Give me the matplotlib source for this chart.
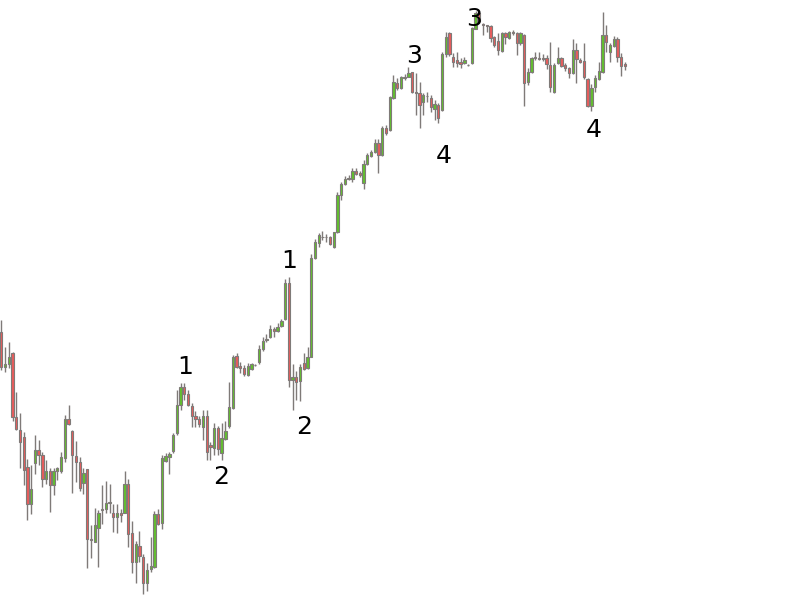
import matplotlib

matplotlib.use("Agg")

import matplotlib.pyplot as plt
import numpy as np


# OHLC prices, one entry per candle, left to right
OPEN: list[float] = [
    268, 233, 236, 247, 183, 170, 163, 133, 96, 137,
    150, 145, 121, 129, 115, 129, 129, 142, 181, 169,
    144, 138, 117, 131, 61, 58, 72, 90, 91, 97,
    87, 83, 87, 87, 116, 67, 38, 54, 43, 17,
    31, 33, 86, 77, 139, 143, 149, 167, 195, 213,
    206, 194, 184, 181, 173, 184, 155, 152, 172, 147,
    161, 174, 192, 244, 234, 232, 225, 231, 235, 238,
    251, 260, 263, 271, 269, 274, 281, 317, 220, 223,
    219, 237, 232, 243, 342, 357, 363, 363, 363, 353,
    368, 405, 416, 421, 421, 429, 427, 417, 436, 444,
    448, 457, 445, 472, 470, 502, 517, 512, 522, 523,
    528, 508, 507, 498, 504, 502, 491, 495, 490, 546,
    567, 543, 540, 538, 537, 535, 537, 571, 587, 576,
    575, 574, 563, 559, 549, 567, 562, 568, 567, 557,
    565, 518, 528, 543, 542, 542, 542, 535, 508, 537,
    542, 535, 532, 527, 550, 540, 539, 521, 494, 513,
    521, 528, 565, 548, 554, 561, 543, 536,
]
HIGH: list[float] = [
    280, 253, 258, 248, 208, 187, 168, 141, 135, 165,
    160, 148, 140, 132, 132, 133, 148, 185, 195, 170,
    159, 143, 132, 131, 75, 92, 90, 115, 119, 116,
    96, 96, 91, 129, 121, 79, 59, 69, 46, 37,
    63, 89, 91, 145, 147, 148, 167, 210, 217, 217,
    210, 197, 189, 184, 190, 190, 158, 177, 174, 177,
    179, 218, 245, 247, 238, 235, 237, 237, 236, 255,
    263, 266, 275, 273, 277, 281, 321, 323, 236, 229,
    236, 247, 253, 346, 361, 367, 369, 366, 364, 368,
    408, 418, 424, 425, 432, 432, 429, 440, 447, 450,
    461, 461, 474, 475, 504, 525, 522, 524, 526, 533,
    528, 527, 518, 507, 508, 505, 500, 497, 548, 568,
    568, 547, 548, 542, 543, 536, 573, 589, 588, 577,
    575, 575, 564, 567, 568, 568, 569, 570, 568, 568,
    566, 532, 543, 548, 548, 546, 545, 558, 537, 553,
    543, 537, 533, 561, 557, 542, 557, 522, 516, 525,
    538, 588, 575, 557, 564, 563, 547, 538,
]
LOW: list[float] = [
    230, 228, 232, 179, 170, 132, 115, 80, 86, 126,
    135, 113, 116, 88, 105, 120, 127, 138, 175, 107,
    118, 109, 106, 32, 42, 58, 33, 76, 87, 87,
    68, 67, 78, 87, 53, 27, 17, 38, 6, 9,
    28, 32, 75, 71, 138, 126, 147, 165, 190, 200,
    194, 173, 173, 173, 160, 140, 140, 145, 145, 140,
    160, 172, 191, 232, 227, 224, 224, 230, 234, 236,
    249, 258, 262, 263, 268, 273, 280, 213, 190, 200,
    199, 230, 231, 243, 341, 353, 360, 358, 355, 352,
    367, 400, 415, 420, 418, 425, 423, 411, 435, 443,
    447, 427, 444, 465, 469, 501, 510, 511, 520, 523,
    507, 485, 472, 485, 498, 488, 480, 477, 489, 543,
    544, 533, 533, 532, 536, 534, 536, 571, 577, 565,
    568, 558, 553, 545, 548, 556, 561, 565, 545, 555,
    494, 515, 527, 540, 540, 539, 531, 508, 507, 536,
    533, 529, 522, 526, 517, 537, 521, 493, 489, 508,
    520, 527, 548, 538, 553, 538, 524, 530,
]
CLOSE: list[float] = [
    233, 236, 243, 183, 171, 158, 130, 96, 111, 150,
    145, 121, 129, 115, 129, 132, 143, 181, 176, 145,
    138, 112, 127, 61, 60, 75, 87, 91, 97, 98,
    83, 87, 85, 116, 66, 38, 56, 44, 17, 30,
    34, 86, 76, 142, 144, 146, 165, 195, 213, 206,
    195, 184, 181, 176, 184, 148, 153, 172, 151, 162,
    169, 193, 243, 233, 232, 226, 234, 236, 235, 251,
    259, 261, 271, 269, 273, 279, 317, 220, 223, 218,
    233, 231, 243, 342, 358, 365, 363, 363, 356, 368,
    405, 416, 421, 422, 429, 426, 425, 436, 445, 448,
    457, 445, 472, 467, 503, 518, 512, 523, 523, 527,
    508, 507, 495, 505, 504, 493, 496, 482, 546, 563,
    546, 538, 537, 536, 540, 535, 572, 587, 579, 575,
    574, 562, 555, 550, 567, 563, 568, 567, 557, 567,
    517, 528, 542, 542, 541, 541, 536, 513, 535, 542,
    534, 532, 527, 550, 541, 538, 523, 494, 512, 522,
    529, 565, 558, 555, 561, 543, 534, 534,
]

# wave-count labels: text, candle position, price level
LABEL_TEXT: list[str] = ["1", "2", "1", "2", "3", "4", "3", "4"]
LABEL_POS: list[float] = [49.3, 58.8, 77.0, 81.0, 110.5, 118.5, 126.6, 158.6]
LABEL_PRICE: list[float] = [233, 123, 339, 173, 544, 444, 581, 470]

UP_COLOR = "#62bf2e"
DOWN_COLOR = "#e85c5c"
LINE_COLOR = "#7f7a78"


def plot_candles(save_path: str = "out.png") -> None:
    opens = np.array(OPEN, dtype=float)
    highs = np.array(HIGH, dtype=float)
    lows = np.array(LOW, dtype=float)
    closes = np.array(CLOSE, dtype=float)
    x = np.arange(len(opens))

    fig = plt.figure(figsize=(7.96, 6.0), dpi=100)
    ax = fig.add_axes([0, 0, 1, 1])

    # wicks first, bodies on top
    ax.vlines(x, lows, highs, color=LINE_COLOR, linewidth=1.0, zorder=1)

    colors = [UP_COLOR if c >= o else DOWN_COLOR for o, c in zip(opens, closes)]
    ax.bar(
        x,
        closes - opens,
        bottom=opens,
        width=0.62,
        color=colors,
        edgecolor=LINE_COLOR,
        linewidth=0.8,
        zorder=2,
    )

    for text, pos, price in zip(LABEL_TEXT, LABEL_POS, LABEL_PRICE):
        ax.text(pos, price, text, fontsize=18, family="DejaVu Sans",
                color="black", ha="center", va="center", zorder=3)

    ax.set_xlim(-0.35, 212.8)
    ax.set_ylim(0, 600)
    ax.axis("off")

    fig.savefig(save_path, dpi=100, facecolor="white")
    plt.close(fig)


def main() -> None:
    plot_candles()


if __name__ == "__main__":
    main()
